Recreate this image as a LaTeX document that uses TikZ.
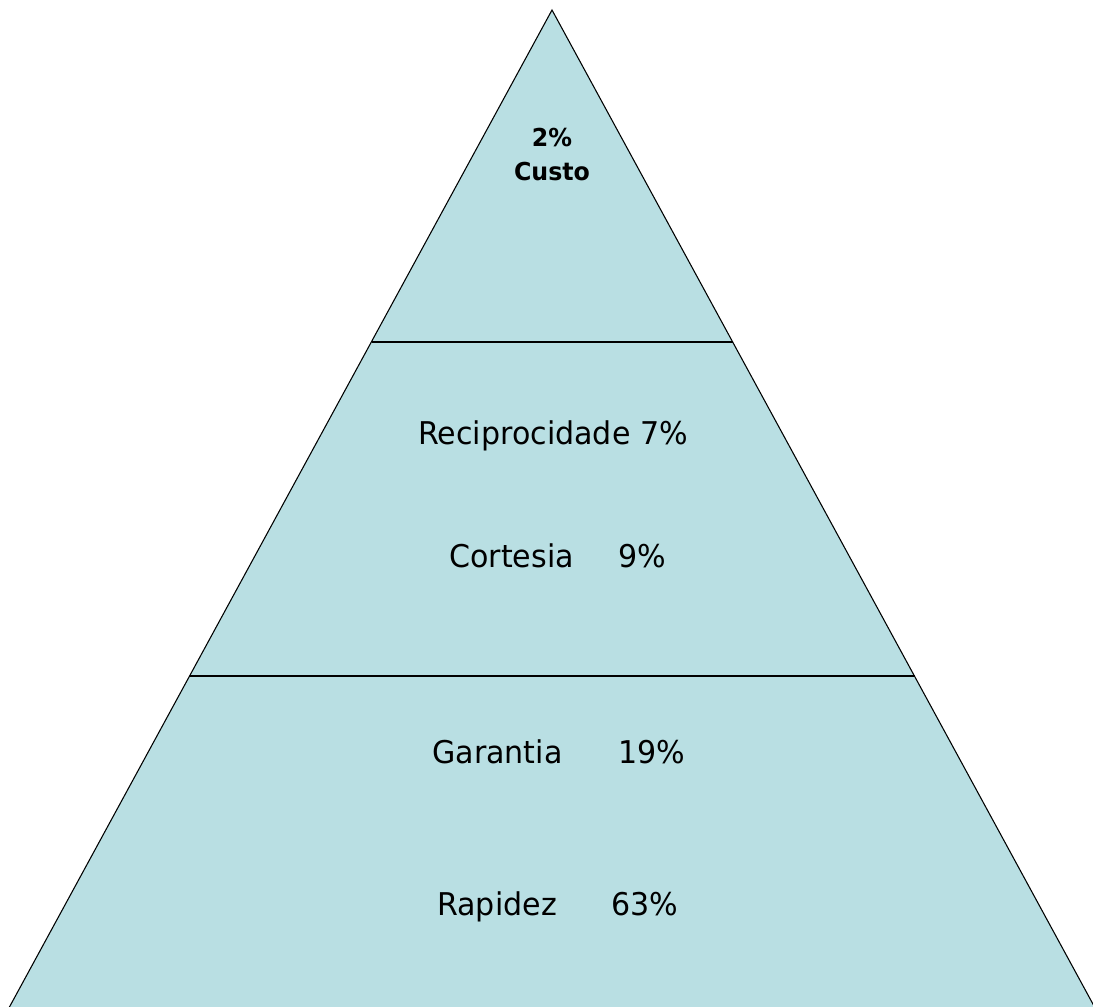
\documentclass[tikz,border=0pt]{standalone}
\usepackage{fontspec}
\setmainfont[FakeStretch=0.96]{DejaVu Sans}
\definecolor{pyrfill}{HTML}{B9DFE3}
\begin{document}
\begin{tikzpicture}[x=0.75pt,y=-0.75pt,
  lbl/.style={inner sep=0pt,anchor=base west,font=\fontsize{23.5}{28}\selectfont},
  toplbl/.style={inner sep=0pt,anchor=base,font=\fontsize{18.5}{22}\selectfont\bfseries},
  edge/.style={draw=black,line width=0.8pt},
  divider/.style={draw=black,line width=1.7pt}]
\useasboundingbox (0,0) rectangle (1093,1007);
% pyramid
\coordinate (apex) at (552,10);
\coordinate (bl) at (4,1017);
\coordinate (br) at (1100,1017);
\fill[pyrfill] (apex) -- (bl) -- (br) -- cycle;
\draw[edge] (bl) -- (apex) -- (br);
% dividers
\coordinate (d1l) at (372,342);
\coordinate (d1r) at (733,342);
\coordinate (d2l) at (190,676);
\coordinate (d2r) at (915,676);
\draw[divider] (d1l) -- (d1r);
\draw[divider] (d2l) -- (d2r);
% texts
\node[toplbl] (pct2) at (552,146) {2\%};
\node[toplbl] (custo) at (552,180) {Custo};
\node[lbl] (recip) at (418,444) {Reciprocidade 7\%};
\node[lbl] (cort) at (449,567) {Cortesia};
\node[lbl] (cortp) at (618,567) {9\%};
\node[lbl] (gar) at (432,763) {Garantia};
\node[lbl] (garp) at (618,763) {19\%};
\node[lbl] (rap) at (437,915) {Rapidez};
\node[lbl] (rapp) at (611,915) {63\%};
\end{tikzpicture}
\end{document}
